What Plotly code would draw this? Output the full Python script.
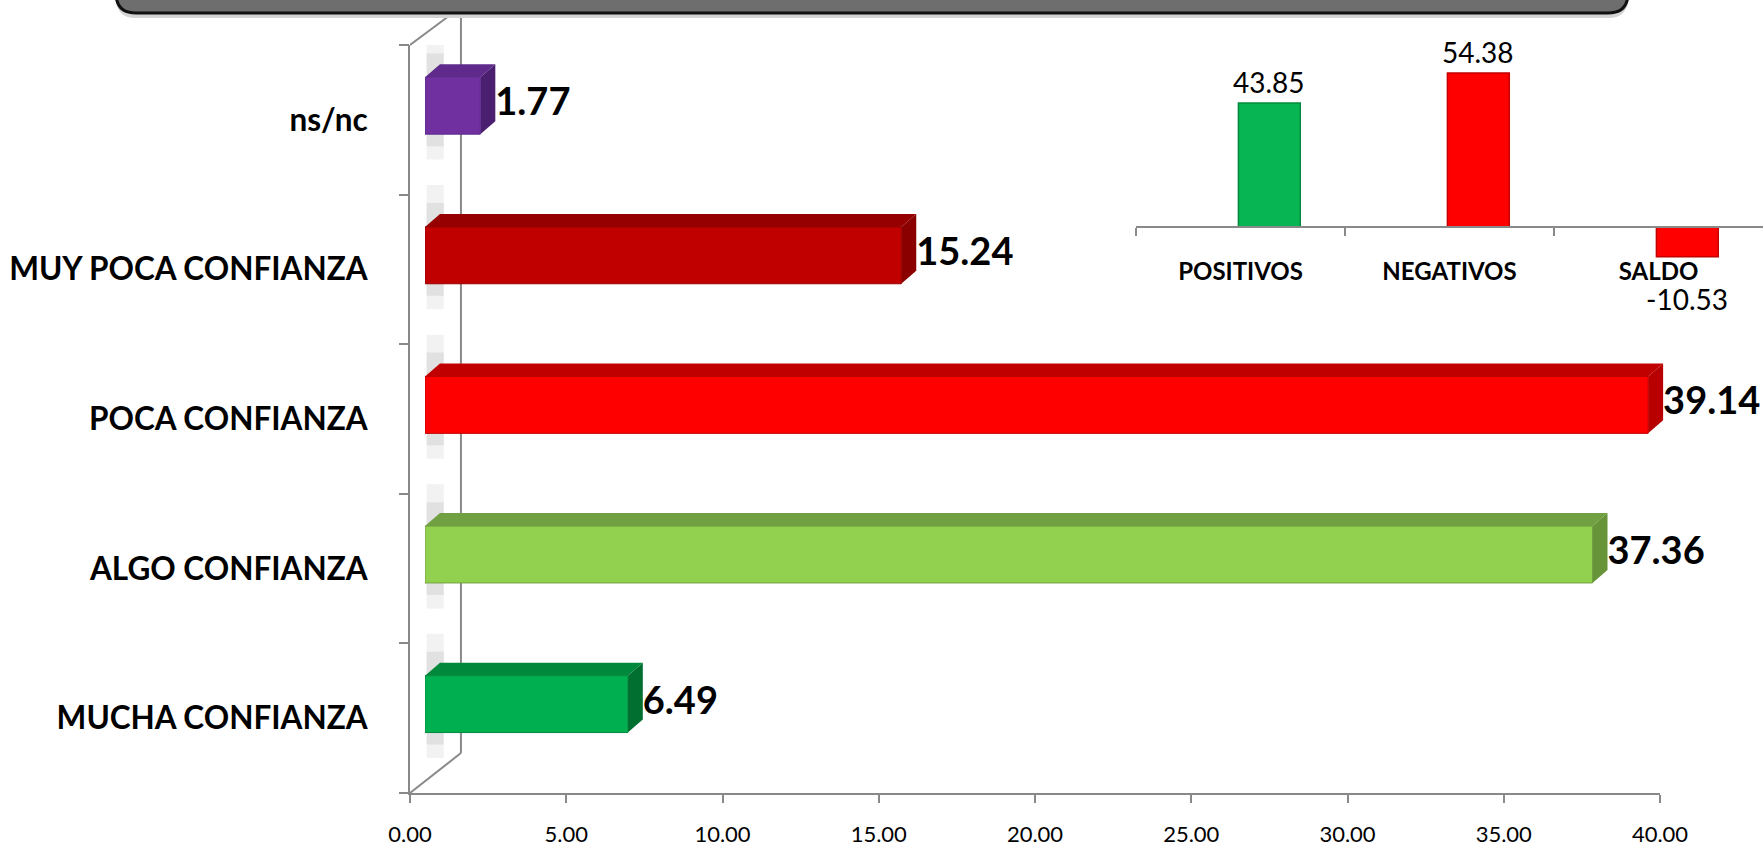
import plotly.graph_objects as go

# data
categories = ['MUCHA CONFIANZA', 'ALGO CONFIANZA', 'POCA CONFIANZA', 'MUY POCA CONFIANZA', 'ns/nc']
values = [6.49, 37.36, 39.14, 15.24, 1.77]
front_colors = ['#00B050', '#92D050', '#FF0000', '#C00000', '#7030A0']
top_colors = ['#00893C', '#71A042', '#C00000', '#960000', '#5F2A8C']
side_colors = ['#006F30', '#679438', '#B80000', '#8A0000', '#4A1F70']

x_ticks = [0, 5, 10, 15, 20, 25, 30, 35, 40]

summary_labels = ['POSITIVOS', 'NEGATIVOS', 'SALDO']
summary_values = [43.85, 54.38, -10.53]
summary_colors = ['#07B653', '#FF0000', '#FF0000']
summary_edges = ['#05893E', '#C40000', '#C40000']

W, H = 1763, 847
GRAY = '#898989'

# pixel layout helpers
def px(x):
    return x / W

def py(y):
    return 1 - y / H

PX_PER_UNIT = 31.25          # main x axis
BAR_W = 0.38
BAR_OFF = -0.096
DEPTH_X = 0.48               # 3d depth of bars (x units)
DEPTH_Y = 0.087              # 3d depth of bars (category units)
WALL_X = 1.63

fig = go.Figure()

# main bars (drawn on x2, which starts slightly behind the front plane)
fig.add_trace(go.Bar(
    x=values, y=list(range(len(values))), orientation='h',
    width=BAR_W, offset=BAR_OFF,
    marker=dict(color=front_colors, line=dict(color=top_colors, width=1)),
    xaxis='x2', yaxis='y', hoverinfo='skip', showlegend=False
))

fig.add_trace(go.Scatter(
    x=[v + DEPTH_X for v in values],
    y=[i + BAR_OFF + BAR_W / 2 for i in range(len(values))],
    mode='text', text=[f'{v:.2f}' for v in values],
    textposition='middle right',
    textfont=dict(family='Lato', size=38, color='black', weight='bold'),
    xaxis='x2', yaxis='y', cliponaxis=False, hoverinfo='skip', showlegend=False
))

# dummy trace so the tick-stub axis is drawn
fig.add_trace(go.Scatter(x=[None], y=[None], xaxis='x', yaxis='y3',
                         hoverinfo='skip', showlegend=False))

shapes = []

# title box (only the bottom edge is visible)
x0, x1, yb = px(116), px(1628), py(13)
rx, ry = px(20), 20 / H
for off, fill, lc in [(5, '#D4D4D4', '#D4D4D4'), (0, '#6E6E6E', '#111111')]:
    b = yb - off / H
    shapes.append(dict(
        type='path', xref='paper', yref='paper', layer='above',
        path=(f'M {x0},1.2 L {x0},{b + ry} Q {x0},{b} {x0 + rx},{b} '
              f'L {x1 - rx},{b} Q {x1},{b} {x1},{b + ry} L {x1},1.2 Z'),
        fillcolor=fill, line=dict(color=lc, width=3 if off == 0 else 0)
    ))

# side wall of the 3d frame
shapes += [
    dict(type='line', xref='x', yref='paper', x0=WALL_X, x1=WALL_X,
         y0=py(753), y1=py(7), line=dict(color=GRAY, width=2), layer='below'),
    dict(type='line', xref='x', yref='paper', x0=0, x1=WALL_X,
         y0=py(45), y1=py(7), line=dict(color=GRAY, width=2), layer='below'),
    dict(type='line', xref='x', yref='paper', x0=0, x1=WALL_X,
         y0=py(793), y1=py(753), line=dict(color=GRAY, width=2), layer='below'),
]

# bar shadows on the wall, top and side faces
for i, v in enumerate(values):
    lo = i + BAR_OFF
    hi = lo + BAR_W
    for pad_lo, pad_hi, op in [(0.17, 0.28, 0.15), (0.08, 0.16, 0.22)]:
        shapes.append(dict(
            type='rect', xref='x2', yref='y', x0=0.05, x1=0.6,
            y0=lo - pad_lo, y1=hi + pad_hi,
            fillcolor='#A6A6A6', opacity=op, line=dict(width=0), layer='below'
        ))
    shapes.append(dict(
        type='path', xref='x2', yref='y', layer='below',
        path=f'M 0,{hi} L {v},{hi} L {v + DEPTH_X},{hi + DEPTH_Y} L {DEPTH_X},{hi + DEPTH_Y} Z',
        fillcolor=top_colors[i], line=dict(width=0)
    ))
    shapes.append(dict(
        type='path', xref='x2', yref='y', layer='below',
        path=(f'M {v},{lo} L {v + DEPTH_X},{lo + DEPTH_Y} '
              f'L {v + DEPTH_X},{hi + DEPTH_Y} L {v},{hi} Z'),
        fillcolor=side_colors[i], line=dict(width=0)
    ))

# inset summary chart
fig.add_trace(go.Bar(
    x=summary_labels, y=summary_values,
    width=0.296, offset=-0.01,
    marker=dict(color=summary_colors, line=dict(color=summary_edges, width=1.5)),
    xaxis='x3', yaxis='y4', hoverinfo='skip', showlegend=False
))

annotations = []
for i, v in enumerate(summary_values):
    annotations.append(dict(
        x=i + 0.138, y=v, xref='x3', yref='y4', text=f'{v:.2f}', showarrow=False,
        yanchor='bottom' if v >= 0 else 'top', yshift=2 if v >= 0 else -23,
        font=dict(family='Lato', size=28, color='black')
    ))

fig.update_layout(
    width=W, height=H,
    margin=dict(l=0, r=0, t=0, b=0),
    paper_bgcolor='white', plot_bgcolor='rgba(0,0,0,0)',
    showlegend=False,
    shapes=shapes,
    annotations=annotations,
    xaxis=dict(
        domain=[px(410), px(1660)], range=[0, 40], anchor='y', automargin=False,
        tickvals=x_ticks, ticktext=[f'{t:.2f}' for t in x_ticks],
        ticks='outside', ticklen=8, tickwidth=2, tickcolor=GRAY,
        showline=True, linecolor=GRAY, linewidth=2,
        showgrid=False, zeroline=False, ticklabelstandoff=13,
        tickfont=dict(family='Lato', size=22, color='black')
    ),
    xaxis2=dict(
        domain=[px(425), 1.0], range=[0, (W - 425) / PX_PER_UNIT], anchor='y',
        visible=False, automargin=False
    ),
    yaxis=dict(
        domain=[py(793), py(45)], range=[-0.5, 4.5], anchor='x', automargin=False,
        tickvals=list(range(len(categories))), ticktext=categories,
        ticks='', showline=True, linecolor=GRAY, linewidth=2,
        showgrid=False, zeroline=False, ticklabelstandoff=34,
        tickfont=dict(family='Lato', size=31.5, color='black', weight='bold')
    ),
    yaxis3=dict(
        overlaying='y', range=[-0.5, 4.5], anchor='x', automargin=False,
        tickvals=[k - 0.5 for k in range(len(categories) + 1)],
        ticks='outside', ticklen=10, tickwidth=2, tickcolor=GRAY,
        showticklabels=False, showgrid=False, zeroline=False, showline=False
    ),
    xaxis3=dict(
        domain=[px(1136), 1.0], range=[-0.5, 2.5], anchor='free', position=py(227),
        type='category', tickson='boundaries', automargin=False,
        ticks='outside', ticklen=8, tickwidth=2, tickcolor=GRAY,
        showline=True, linecolor=GRAY, linewidth=2,
        showgrid=False, zeroline=False, ticklabelstandoff=23,
        tickfont=dict(family='Lato', size=24, color='black', weight='bold')
    ),
    yaxis4=dict(
        domain=[py(300), py(45)], range=[-25.8, 64.3], anchor='x3',
        visible=False, automargin=False
    ),
)

# the page's default body margin would push the figure off the window
fig.write_html('out.html', config={'displayModeBar': False},
               post_script="document.body.style.margin = '0';")
